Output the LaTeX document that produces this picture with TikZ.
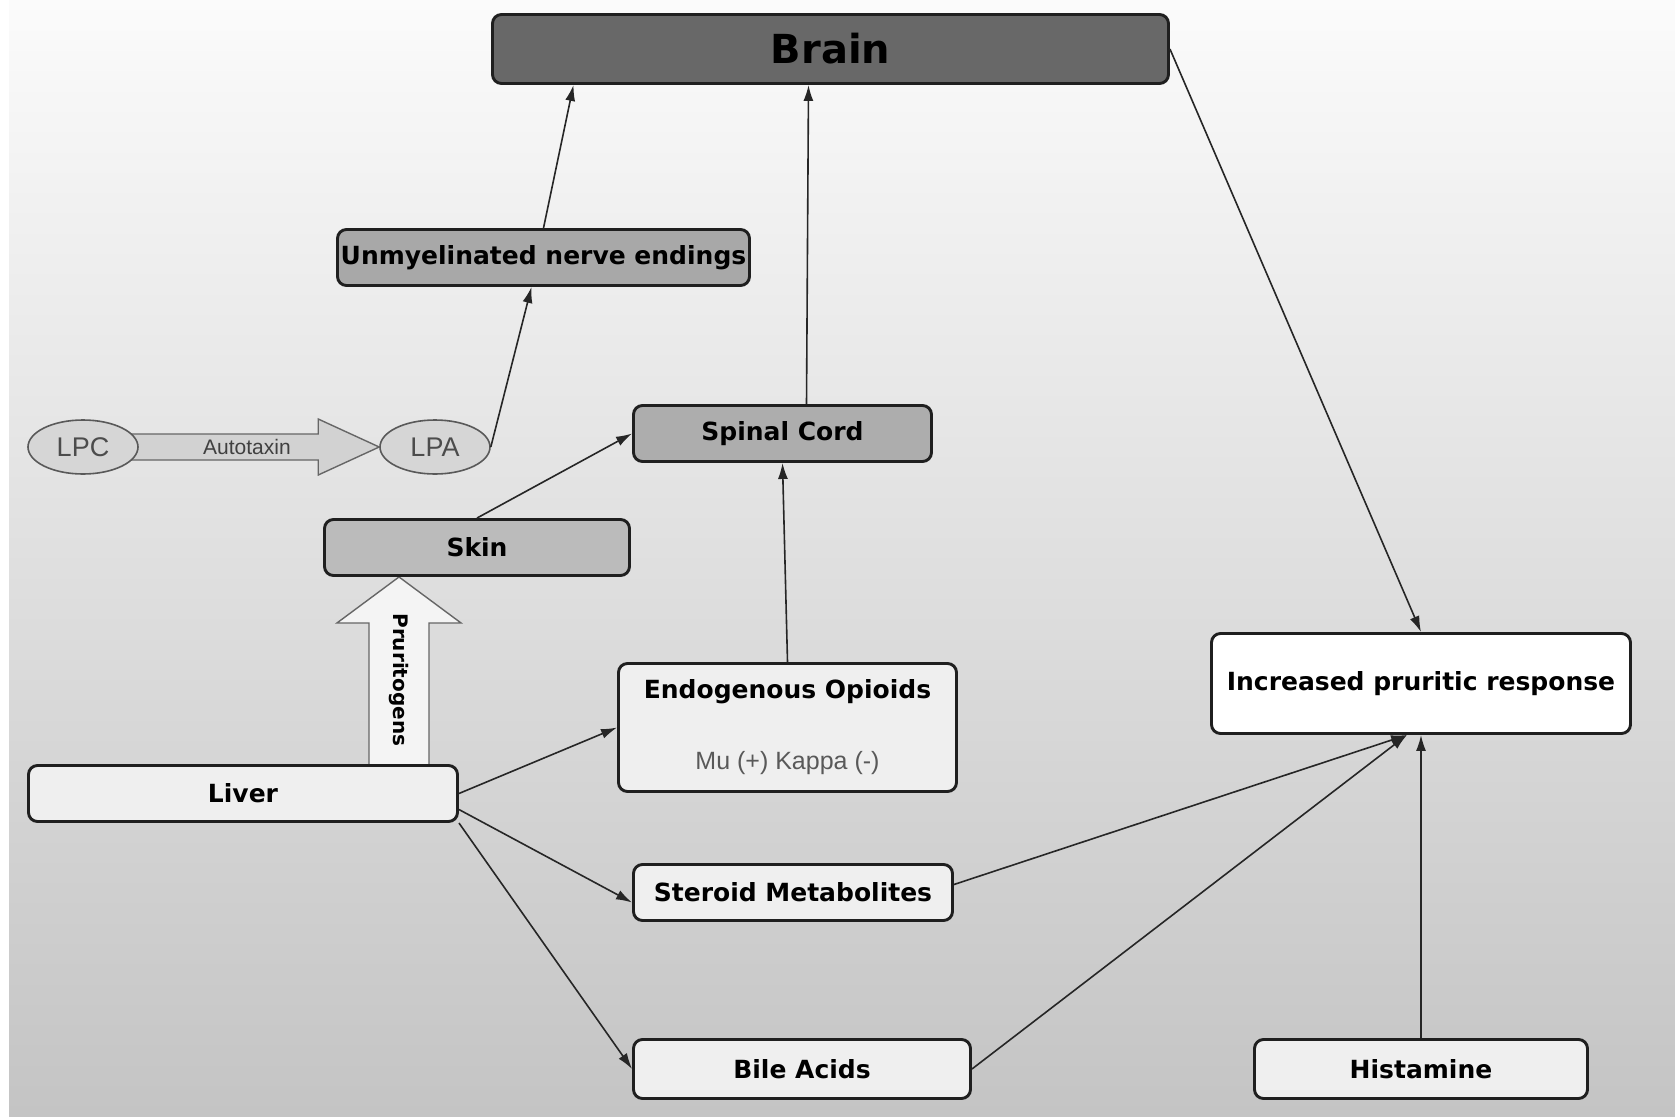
\documentclass[tikz,border=0pt]{standalone}
\usepackage{fontspec}
\setmainfont{DejaVu Sans}
\newfontfamily\thinfont{Liberation Sans}
\usepackage{xcolor}
\usetikzlibrary{arrows.meta,positioning,calc,shapes.geometric}
\definecolor{brainfill}{HTML}{686868}
\definecolor{nervefill}{HTML}{A8A8A8}
\definecolor{spinalfill}{HTML}{ADADAD}
\definecolor{skinfill}{HTML}{BBBBBB}
\definecolor{boxlight}{HTML}{EFEFEF}
\definecolor{molfill}{HTML}{D6D6D6}
\definecolor{fatfill}{HTML}{D2D2D2}
\definecolor{pruritfill}{HTML}{F4F4F4}
\definecolor{bgtop}{HTML}{FBFBFB}
\definecolor{bgmid}{HTML}{DEDEDE}
\definecolor{bgbottom}{HTML}{C4C4C4}
\pgfdeclarelayer{bg}
\pgfdeclarelayer{back}
\pgfsetlayers{bg,back,main}

\begin{document}
\begin{tikzpicture}[x=1pt,y=-1pt,
			box/.style={rectangle, rounded corners=9pt, draw=black!88, line width=2.9pt, fill=boxlight, inner sep=0pt, align=center, font=\fontsize{25}{30}\selectfont\bfseries},
			mol/.style={ellipse, draw=black!65, line width=1.6pt, fill=molfill, minimum width=110pt, minimum height=54pt, inner sep=0pt, text=black!70, font=\thinfont\fontsize{27}{30}\selectfont},
			link/.style={-{Latex[length=16pt,width=10pt]}, line width=1.6pt, draw=black!85},
			fat/.style={line width=1.4pt, draw=black!60}
			]
			\useasboundingbox (0,0) rectangle (1675,1116);
			\begin{pgfonlayer}{bg}
				\fill[white] (0,0) rectangle (1675,1116);
				\shade[top color=bgtop, middle color=bgmid, bottom color=bgbottom] (9,0) rectangle (1675,1116);
			\end{pgfonlayer}
			
			\node[box, fill=brainfill, minimum width=676pt, minimum height=69pt, font=\fontsize{40}{44}\selectfont\bfseries] (brain) at (830.5,49) {\raisebox{-3pt}{Brain}};
			\node[box, fill=nervefill, minimum width=412pt, minimum height=56pt] (nerve) at (543.5,257.5) {Unmyelinated nerve endings};
			\node[mol] (lpc) at (83,447) {LPC};
			\node[mol] (lpa) at (435,447) {LPA};
			\node[box, fill=spinalfill, minimum width=298pt, minimum height=56pt] (spinal) at (782.5,433.5) {Spinal Cord};
			\node[box, fill=skinfill, minimum width=305pt, minimum height=56pt] (skin) at (477,547.5) {Skin};
			\node[box, minimum width=338pt, minimum height=128pt] (opioids) at (787.5,727.5) {Endogenous Opioids\\[41pt]{\thinfont\mdseries\color{black!65}Mu (+) Kappa (-)}};
			\node[box, minimum width=429pt, minimum height=56pt] (liver) at (243,793.5) {Liver};
			\node[box, minimum width=319pt, minimum height=56pt] (steroid) at (793,892.5) {Steroid Metabolites};
			\node[box, minimum width=337pt, minimum height=59pt] (bile) at (802,1069) {Bile Acids};
			\node[box, minimum width=333pt, minimum height=59pt] (histamine) at (1421,1069) {Histamine};
			\node[box, fill=white, minimum width=419pt, minimum height=100pt] (response) at (1421,683.5) {Increased pruritic response};
			
			\coordinate (headbase) at ($(lpa.west)+(-61,0)$);
			\coordinate (ptip) at ([xshift=-78pt]skin.south);
			\coordinate (pfoot) at ([xshift=156pt]liver.north);
			\begin{pgfonlayer}{back}
				\draw[fat, fill=fatfill] ($(lpc.center)+(0,-13)$) -- ($(headbase)+(0,-13)$) -- ($(headbase)+(0,-28)$) -- (lpa.west) -- ($(headbase)+(0,28)$) -- ($(headbase)+(0,13)$) -- ($(lpc.center)+(0,13)$) -- cycle;
				\draw[fat, fill=pruritfill] ($(pfoot)+(-30,10)$) -- ($(ptip)+(-30,46)$) -- ($(ptip)+(-62,46)$) -- (ptip) -- ($(ptip)+(62,46)$) -- ($(ptip)+(30,46)$) -- ($(pfoot)+(30,10)$) -- cycle;
			\end{pgfonlayer}
			\node[text=black!75, font=\thinfont\fontsize{21}{24}\selectfont] (enzyme) at ($(lpc.east)!0.45!(lpa.west)$) {Autotaxin};
			\node[rotate=-90, font=\fontsize{20}{24}\selectfont\bfseries] (pruri) at ($(ptip)!0.55!(pfoot)$) {Pruritogens};
			
			\draw[link] (nerve.north) -- ([xshift=-257pt]brain.south);
			\draw[link] (lpa.east) -- ([xshift=-12pt]nerve.south);
			\draw[link] ([xshift=24pt]spinal.north) -- ([xshift=-22pt]brain.south);
			\draw[link] (skin.north) -- (spinal.west);
			\draw[link] (opioids.north) -- (spinal.south);
			\draw[link] (liver.east) -- (opioids.west);
			\draw[link] ([yshift=-16pt]liver.east) -- ([yshift=-10pt]steroid.west);
			\draw[link] (liver.south east) -- (bile.west);
			\draw[link] (brain.east) -- (response.north);
			\draw[link] ([yshift=8pt]steroid.east) -- ([xshift=-14pt]response.south);
			\draw[link] (bile.east) -- ([xshift=-14pt]response.south);
			\draw[link] (histamine.north) -- (response.south);
		\end{tikzpicture}
\end{document}
